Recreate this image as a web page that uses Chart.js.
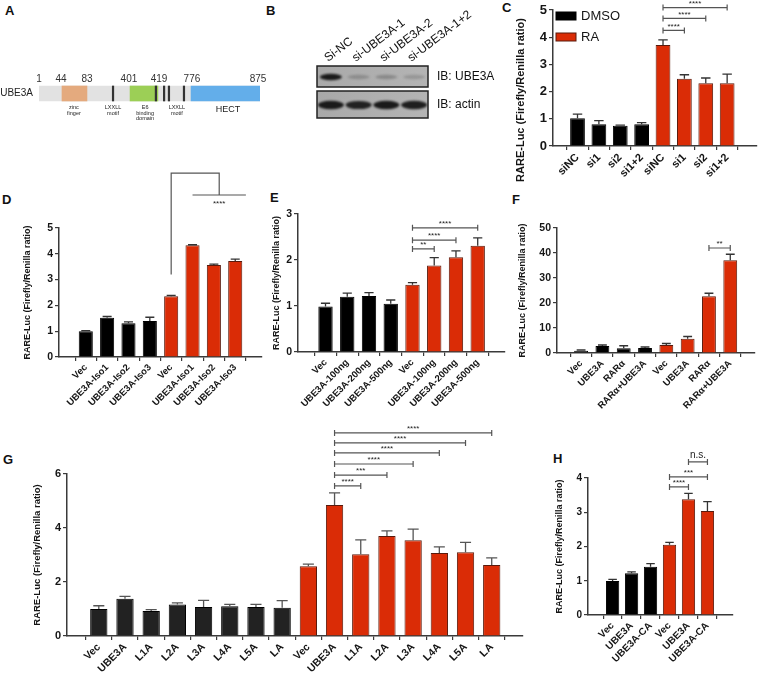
<!DOCTYPE html>
<html>
<head>
<meta charset="utf-8">
<script src="https://cdn.jsdelivr.net/npm/chart.js@4.4.1/dist/chart.umd.min.js"></script>
<style>
  body { margin: 0; background: #fff; width: 758px; height: 676px; position: relative; overflow: hidden;
         font-family: "Liberation Sans", Arial, sans-serif; }
  .box { position: absolute; }
  .lbl { position: absolute; font-weight: bold; font-size: 13px; line-height: 1; color: #111; }
</style>
</head>
<body>
<div class="lbl" style="left:5px;top:4px">A</div>
<div class="lbl" style="left:266px;top:4px">B</div>
<div class="lbl" style="left:502px;top:1px">C</div>
<div class="lbl" style="left:2px;top:193px">D</div>
<div class="lbl" style="left:270px;top:191px">E</div>
<div class="lbl" style="left:512px;top:193px">F</div>
<div class="lbl" style="left:3px;top:453px">G</div>
<div class="lbl" style="left:553px;top:452px">H</div>

<div class="box" style="left:0;top:55px;width:290px;height:80px"><canvas id="cA"></canvas></div>
<div class="box" style="left:290px;top:0;width:222px;height:130px"><canvas id="cB"></canvas></div>
<div class="box" style="left:515px;top:0;width:243px;height:192px"><canvas id="cC"></canvas></div>
<div class="box" style="left:15px;top:160px;width:253px;height:265px"><canvas id="cD"></canvas></div>
<div class="box" style="left:262px;top:195px;width:248px;height:230px"><canvas id="cE"></canvas></div>
<div class="box" style="left:512px;top:195px;width:246px;height:230px"><canvas id="cF"></canvas></div>
<div class="box" style="left:25px;top:415px;width:510px;height:261px"><canvas id="cG"></canvas></div>
<div class="box" style="left:545px;top:440px;width:213px;height:236px"><canvas id="cH"></canvas></div>

<script>
// ---- data ----
// A: UBE3A domain map (schematic positions along the drawn bar, 0-100)
const residueNum = [1, 44, 83, 401, 419, 776, 875];
const residuePos = [0, 10, 21.7, 40.7, 54.3, 69.2, 99.1];
const domainStart = [0, 10.4, 41.2, 68.8];
const domainEnd = [100, 21.7, 53.8, 100];
const domainColors = ['#e2e2e2', '#e4aa7e', '#9ccf56', '#63aeea'];
const motifPos = [33.5, 52.9, 56.6, 58.8, 65.6];
const domainLabels = [['zinc', 'finger'], ['LXXLL', 'motif'], ['E6', 'binding', 'domain'], ['LXXLL', 'motif'], ['HECT']];
const domainLabelPos = [15.8, 33.5, 48, 62.4, 85.5];

// B: western blot
const blotLanes = ['Si-NC', 'si-UBE3A-1', 'si-UBE3A-2', 'si-UBE3A-1+2'];
const blotRows = ['IB: UBE3A', 'IB: actin'];
const ube3aBand = [1.0, 0.22, 0.25, 0.18];
const actinBand = [1.0, 0.95, 1.0, 0.97];

// C
const cSeries = ['DMSO', 'RA'];
const cLabels = ['siNC', 'si1', 'si2', 'si1+2', 'siNC', 'si1', 'si2', 'si1+2'];
const cGroups = [0, 0, 0, 0, 1, 1, 1, 1];
const cValues = [1.02, 0.8, 0.74, 0.8, 3.71, 2.47, 2.31, 2.31];
const cErrors = [0.15, 0.13, 0.03, 0.06, 0.19, 0.15, 0.19, 0.33];
const cSig = [[4, 5, 4.25, '****'], [4, 6, 4.69, '****'], [4, 7, 5.09, '****']];

// D
const dLabels = ['Vec', 'UBE3A-Iso1', 'UBE3A-Iso2', 'UBE3A-Iso3', 'Vec', 'UBE3A-Iso1', 'UBE3A-Iso2', 'UBE3A-Iso3'];
const dGroups = [0, 0, 0, 0, 1, 1, 1, 1];
const dValues = [1.0, 1.52, 1.31, 1.4, 2.35, 4.33, 3.57, 3.72];
const dErrors = [0.02, 0.05, 0.05, 0.14, 0.04, 0.02, 0.03, 0.07];

// E
const eLabels = ['Vec', 'UBE3A-100ng', 'UBE3A-200ng', 'UBE3A-500ng', 'Vec', 'UBE3A-100ng', 'UBE3A-200ng', 'UBE3A-500ng'];
const eGroups = [0, 0, 0, 0, 1, 1, 1, 1];
const eValues = [0.99, 1.2, 1.22, 1.05, 1.46, 1.88, 2.06, 2.31];
const eErrors = [0.07, 0.08, 0.07, 0.08, 0.05, 0.17, 0.14, 0.17];
const eSig = [[4, 5, 2.24, '**'], [4, 6, 2.43, '****'], [4, 7, 2.7, '****']];

// F
const fLabels = ['Vec', 'UBE3A', 'RARα', 'RARα+UBE3A', 'Vec', 'UBE3A', 'RARα', 'RARα+UBE3A'];
const fGroups = [0, 0, 0, 0, 1, 1, 1, 1];
const fValues = [0.9, 2.8, 1.9, 2.0, 3.2, 5.7, 22.7, 37.1];
const fErrors = [0.3, 0.4, 1.0, 0.4, 0.6, 0.9, 1.2, 2.4];
const fSig = [[6, 7, 42, '**']];

// G
const gLabels = ['Vec', 'UBE3A', 'L1A', 'L2A', 'L3A', 'L4A', 'L5A', 'LA', 'Vec', 'UBE3A', 'L1A', 'L2A', 'L3A', 'L4A', 'L5A', 'LA'];
const gGroups = [0, 0, 0, 0, 0, 0, 0, 0, 1, 1, 1, 1, 1, 1, 1, 1];
const gValues = [1.0, 1.38, 0.93, 1.17, 1.07, 1.1, 1.07, 1.05, 2.58, 4.85, 3.03, 3.7, 3.55, 3.07, 3.1, 2.63];
const gErrors = [0.12, 0.09, 0.05, 0.06, 0.25, 0.07, 0.1, 0.26, 0.08, 0.45, 0.53, 0.19, 0.41, 0.23, 0.37, 0.26];
const gSig = [[9, 10, 5.56, '****'], [9, 11, 5.96, '***'], [9, 12, 6.37, '****'], [9, 13, 6.78, '****'], [9, 14, 7.15, '****'], [9, 15, 7.52, '****']];

// H
const hLabels = ['Vec', 'UBE3A', 'UBE3A-CA', 'Vec', 'UBE3A', 'UBE3A-CA'];
const hGroups = [0, 0, 0, 1, 1, 1];
const hValues = [0.99, 1.22, 1.41, 2.05, 3.38, 3.04];
const hErrors = [0.05, 0.04, 0.09, 0.07, 0.17, 0.27];
const hSig = [[3, 4, 3.74, '****'], [3, 5, 4.03, '***'], [4, 5, 4.47, 'n.s.']];

// ---- style ----
const FONT = '"Liberation Sans", Arial, sans-serif';
const RED = '#da2c06';
const RED_EDGE = '#5a1a0c';
const BLACK = '#000000';
const AXIS = '#3a3a3a';
const TXT = '#151515';
const YTITLE = 'RARE-Luc (Firefly/Renilla ratio)';

const extras = {};

// error bars, brackets, y title, legend
const panelPlugin = {
  id: 'panelDecor',
  afterDraw(chart) {
    const o = extras[chart.canvas.id];
    const ctx = chart.ctx, x = chart.scales.x, y = chart.scales.y, ca = chart.chartArea;
    const meta = chart.getDatasetMeta(0);
    ctx.save();
    // error bars (upper only)
    ctx.strokeStyle = o.errColor || '#333';
    ctx.lineWidth = 1.3;
    meta.data.forEach((bar, i) => {
      const top = y.getPixelForValue(o.values[i] + o.errors[i]);
      const half = bar.width * 0.32;
      ctx.beginPath();
      ctx.moveTo(bar.x, bar.y); ctx.lineTo(bar.x, top);
      ctx.moveTo(bar.x - half, top); ctx.lineTo(bar.x + half, top);
      ctx.stroke();
    });
    // significance brackets
    ctx.strokeStyle = '#555';
    ctx.fillStyle = '#222';
    ctx.lineWidth = 1.2;
    (o.sig || []).forEach(([a, b, lv, txt]) => {
      const xa = x.getPixelForValue(a), xb = x.getPixelForValue(b), yy = y.getPixelForValue(lv);
      ctx.beginPath();
      ctx.moveTo(xa, yy); ctx.lineTo(xb, yy);
      ctx.moveTo(xa, yy - 3); ctx.lineTo(xa, yy + 3);
      ctx.moveTo(xb, yy - 3); ctx.lineTo(xb, yy + 3);
      ctx.stroke();
      ctx.font = (txt === 'n.s.' ? '10px ' : '8px ') + FONT;
      ctx.textAlign = 'center';
      ctx.textBaseline = 'bottom';
      ctx.fillText(txt, (xa + xb) / 2, yy - (txt === 'n.s.' ? 2 : 0));
    });
    // D style bracket
    if (o.bracket) {
      const k = o.bracket;
      const x0 = x.getPixelForValue(k.from);
      const x1 = x.getPixelForValue(k.to[0]), x2 = x.getPixelForValue(k.to[1]);
      const xm = (x1 + x2) / 2;
      const yb = y.getPixelForValue(k.base), yt = y.getPixelForValue(k.top), ym = y.getPixelForValue(k.mid);
      ctx.beginPath();
      ctx.moveTo(x0, yb); ctx.lineTo(x0, yt); ctx.lineTo(xm, yt); ctx.lineTo(xm, ym);
      ctx.moveTo(x1, ym); ctx.lineTo(x2, ym);
      ctx.stroke();
      ctx.font = '8px ' + FONT;
      ctx.textAlign = 'center';
      ctx.textBaseline = 'middle';
      ctx.fillText(k.text, xm, y.getPixelForValue(k.textLevel));
    }
    // legend
    if (o.legend) {
      ctx.font = '13px ' + FONT;
      ctx.textAlign = 'left';
      ctx.textBaseline = 'middle';
      o.legend.forEach((name, i) => {
        const ty = ca.top + 2 + i * 21;
        ctx.fillStyle = i ? RED : BLACK;
        ctx.fillRect(ca.left + 3, ty, 20, 8);
        ctx.strokeStyle = i ? RED_EDGE : '#000';
        ctx.lineWidth = 1;
        ctx.strokeRect(ca.left + 3, ty, 20, 8);
        ctx.fillStyle = TXT;
        ctx.fillText(name, ca.left + 28, ty + 4);
      });
    }
    // y title
    ctx.translate(o.titleX, (ca.top + ca.bottom) / 2 + (o.titleDy || 0));
    ctx.rotate(-Math.PI / 2);
    ctx.font = 'bold ' + o.titleSize + 'px ' + FONT;
    ctx.fillStyle = TXT;
    ctx.textAlign = 'center';
    ctx.textBaseline = 'middle';
    ctx.fillText(YTITLE, 0, 0);
    ctx.restore();
  }
};

function barPanel(id, o) {
  extras[id] = o;
  const n = o.labels.length;
  return new Chart(document.getElementById(id), {
    type: 'bar',
    data: {
      labels: o.labels,
      datasets: [{
        data: o.values.map((v, i) => ({x: i, y: v})),
        backgroundColor: o.groups.map(g => g ? RED : (o.black || BLACK)),
        borderColor: o.groups.map(g => g ? RED_EDGE : '#000'),
        borderWidth: 1,
        barPercentage: o.bar,
        categoryPercentage: 1
      }]
    },
    options: {
      responsive: true,
      maintainAspectRatio: false,
      animation: false,
      layout: {padding: {top: o.padTop, right: o.padRight, left: 0, bottom: 0}},
      plugins: {legend: {display: false}, tooltip: {enabled: false}},
      scales: {
        x: {
          type: 'linear',
          min: -o.gapL,
          max: n - 1 + o.gapR,
          afterBuildTicks: s => { s.ticks = o.labels.map((_, i) => ({value: i})); },
          afterFit: s => { s.height = o.xH; s.paddingLeft = 0; s.paddingRight = 0; },
          ticks: {
            autoSkip: false, minRotation: 45, maxRotation: 45, padding: 1, color: TXT,
            font: {family: FONT, size: o.xFont, weight: 'bold'},
            callback: v => o.labels[v]
          },
          grid: {drawOnChartArea: false, tickLength: 4, color: AXIS, lineWidth: 1.2},
          border: {color: AXIS, width: 1.5}
        },
        y: {
          min: 0,
          max: o.max,
          afterFit: s => { s.width = o.yW; s.paddingTop = 0; s.paddingBottom = 0; },
          ticks: {stepSize: o.step, padding: 2, color: TXT, font: {family: FONT, size: o.yFont, weight: 'bold'}},
          grid: {drawOnChartArea: false, tickLength: 4, color: AXIS, lineWidth: 1.2},
          border: {color: AXIS, width: 1.5}
        }
      }
    },
    plugins: [panelPlugin]
  });
}

// ---- A: domain map ----
const domainText = {
  id: 'domainText',
  afterDraw(chart) {
    const ctx = chart.ctx, x = chart.scales.x, ca = chart.chartArea;
    const yc = (ca.top + ca.bottom) / 2;
    ctx.save();
    ctx.fillStyle = '#333';
    ctx.font = '10px ' + FONT;
    ctx.textAlign = 'center';
    ctx.textBaseline = 'alphabetic';
    residueNum.forEach((r, i) => ctx.fillText(String(r), x.getPixelForValue(residuePos[i]), yc - 12));
    ctx.font = '10px ' + FONT;
    ctx.textAlign = 'right';
    ctx.textBaseline = 'middle';
    ctx.fillStyle = '#222';
    ctx.fillText(chart.data.labels[0], ca.left - 6, yc);
    ctx.textAlign = 'center';
    domainLabels.forEach((lines, i) => {
      const px = x.getPixelForValue(domainLabelPos[i]);
      if (lines.length === 1) {
        ctx.font = '9px ' + FONT;
        ctx.fillText(lines[0], px, yc + 16);
      } else {
        ctx.font = '5.5px ' + FONT;
        lines.forEach((t, j) => ctx.fillText(t, px, yc + 14 + j * 5.5));
      }
    });
    ctx.restore();
  }
};

new Chart(document.getElementById('cA'), {
  type: 'bar',
  data: {
    labels: ['UBE3A'],
    datasets: domainStart.map((s, i) => ({
      data: [[s, domainEnd[i]]], backgroundColor: domainColors[i], grouped: false, barThickness: 15,
      order: i === 0 ? 20 : 10
    })).concat(motifPos.map(p => ({
      data: [[p - 0.35, p + 0.35]], backgroundColor: '#333', grouped: false, barThickness: 15, order: 1
    })))
  },
  options: {
    indexAxis: 'y',
    responsive: true, maintainAspectRatio: false, animation: false,
    layout: {padding: {left: 39, right: 30, top: 15, bottom: 18}},
    plugins: {legend: {display: false}, tooltip: {enabled: false}},
    scales: {x: {type: 'linear', min: 0, max: 100, display: false}, y: {display: false}}
  },
  plugins: [domainText]
});

// ---- B: western blot ----
const blotPlugin = {
  id: 'blot',
  afterDraw(chart) {
    const ctx = chart.ctx, x = chart.scales.x, ca = chart.chartArea;
    const rows = [
      {top: ca.top, h: 21, bands: ube3aBand, rx: 11, ry: 3.2},
      {top: ca.top + 25, h: 27, bands: actinBand, rx: 13, ry: 4.2}
    ];
    ctx.save();
    rows.forEach((r, ri) => {
      const g = ctx.createLinearGradient(ca.left, 0, ca.right, 0);
      g.addColorStop(0, '#a9a9a9'); g.addColorStop(1, '#b4b4b4');
      ctx.fillStyle = g;
      ctx.fillRect(ca.left, r.top, ca.right - ca.left, r.h);
      ctx.save();
      ctx.beginPath(); ctx.rect(ca.left, r.top, ca.right - ca.left, r.h); ctx.clip();
      ctx.filter = 'blur(1.3px)';
      r.bands.forEach((v, i) => {
        const cx = x.getPixelForValue(i);
        ctx.fillStyle = 'rgba(18,18,18,' + (0.95 * v) + ')';
        ctx.beginPath();
        ctx.ellipse(cx, r.top + r.h / 2 + 0.5, r.rx, r.ry * (0.6 + 0.4 * v), 0, 0, Math.PI * 2);
        ctx.fill();
      });
      ctx.restore();
      ctx.strokeStyle = '#222';
      ctx.lineWidth = 1.5;
      ctx.strokeRect(ca.left, r.top, ca.right - ca.left, r.h);
      ctx.fillStyle = '#111';
      ctx.font = '12px ' + FONT;
      ctx.textAlign = 'left';
      ctx.textBaseline = 'middle';
      ctx.fillText(blotRows[ri], ca.right + 9, r.top + r.h / 2);
    });
    chart.data.labels.forEach((t, i) => {
      ctx.save();
      ctx.translate(x.getPixelForValue(i) - 3, ca.top - 4);
      ctx.rotate(-37 * Math.PI / 180);
      ctx.font = '12px ' + FONT;
      ctx.fillStyle = '#111';
      ctx.textAlign = 'left';
      ctx.textBaseline = 'alphabetic';
      ctx.fillText(t, 0, 0);
      ctx.restore();
    });
    ctx.restore();
  }
};

new Chart(document.getElementById('cB'), {
  type: 'bar',
  data: {labels: blotLanes, datasets: []},
  options: {
    responsive: true, maintainAspectRatio: false, animation: false,
    layout: {padding: {left: 27, right: 84, top: 66, bottom: 12}},
    plugins: {legend: {display: false}, tooltip: {enabled: false}},
    scales: {x: {type: 'category', display: false}, y: {display: false}}
  },
  plugins: [blotPlugin]
});

// ---- C-H ----
barPanel('cC', {labels: cLabels, groups: cGroups, values: cValues, errors: cErrors, sig: cSig, legend: cSeries,
  max: 5, step: 1, gapL: 0.55, gapR: 0.8, bar: 0.69, yW: 38, padTop: 10, padRight: 1, xH: 46,
  xFont: 11, yFont: 13, titleX: 6, titleSize: 11, titleDy: 22});

barPanel('cD', {labels: dLabels, groups: dGroups, values: dValues, errors: dErrors,
  bracket: {from: 4, to: [5, 7.5], base: 3.2, top: 7.13, mid: 6.28, text: '****', textLevel: 5.92},
  max: 5, step: 1, gapL: 0.66, gapR: 0.66, bar: 0.66, yW: 44, padTop: 68, padRight: 6, xH: 68,
  xFont: 9.5, yFont: 10.5, titleX: 13, titleSize: 9});

barPanel('cE', {labels: eLabels, groups: eGroups, values: eValues, errors: eErrors, sig: eSig,
  max: 3, step: 1, gapL: 0.67, gapR: 0.66, bar: 0.66, yW: 36, padTop: 19, padRight: 5, xH: 73,
  xFont: 9.5, yFont: 10.5, titleX: 15, titleSize: 9});

barPanel('cF', {labels: fLabels, groups: fGroups, values: fValues, errors: fErrors, sig: fSig,
  max: 50, step: 10, gapL: 0.55, gapR: 0.58, bar: 0.65, yW: 45, padTop: 33, padRight: 3, xH: 72,
  xFont: 9.5, yFont: 10.5, titleX: 11, titleSize: 9});

barPanel('cG', {labels: gLabels, groups: gGroups, values: gValues, errors: gErrors, sig: gSig,
  black: '#222222', errColor: '#555',
  max: 6, step: 2, gapL: 0.67, gapR: 0.65, bar: 0.66, yW: 42, padTop: 59, padRight: 12, xH: 40,
  xFont: 10.5, yFont: 11, titleX: 12, titleSize: 9.5});

barPanel('cH', {labels: hLabels, groups: hGroups, values: hValues, errors: hErrors, sig: hSig,
  max: 4, step: 1, gapL: 0.66, gapR: 0.71, bar: 0.7, yW: 43, padTop: 38, padRight: 25, xH: 61,
  xFont: 10, yFont: 10, titleX: 15, titleSize: 9});
</script>
</body>
</html>
